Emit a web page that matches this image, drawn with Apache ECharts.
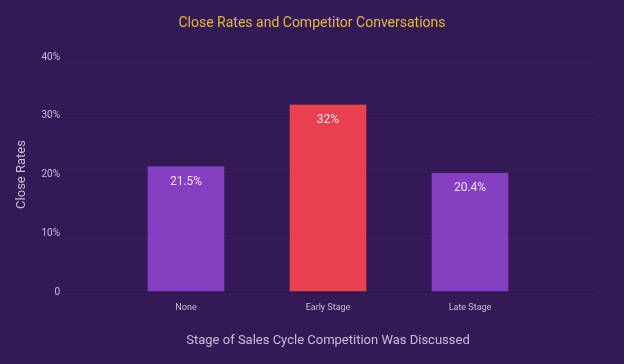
<!DOCTYPE html>
<html><head><meta charset="utf-8">
<script src="https://cdn.jsdelivr.net/npm/echarts@6/dist/echarts.min.js"></script>
<style>html,body{margin:0;padding:0;background:#331a57;}#c{width:624px;height:364px;}</style>
</head><body><div id="c"></div>
<script>
const categories = ['None', 'Early Stage', 'Late Stage'];
const closeRates = [21.5, 32, 20.4];
const barColors = ['#8540c2', '#e8404f', '#8540c2'];
const yTicks = [0, 10, 20, 30, 40];

const chart = echarts.init(document.getElementById('c'));
const fontFam = 'Roboto, sans-serif';
chart.setOption({
  backgroundColor: '#331a57',
  animation: false,
  title: {
    text: 'Close Rates and Competitor Conversations',
    left: 'center', top: 11,
    textStyle: { color: '#e6b93a', fontSize: 14, fontWeight: 'normal', fontFamily: fontFam }
  },
  grid: [
    { left: 62, right: 27, top: 57, bottom: 72 },
    { left: 115, right: 83, top: 57, bottom: 72 }
  ],
  xAxis: [
    { type: 'category', gridIndex: 0, data: categories, show: false },
    {
      type: 'category', gridIndex: 1, data: categories,
      axisLine: { show: false }, axisTick: { show: false },
      axisLabel: { color: '#c9bcd9', fontSize: 9, margin: 11, fontFamily: fontFam },
      name: 'Stage of Sales Cycle Competition Was Discussed',
      nameLocation: 'middle', nameGap: 42,
      nameTextStyle: { color: '#c9bcd9', fontSize: 13, fontFamily: fontFam }
    }
  ],
  yAxis: [
    {
      type: 'value', gridIndex: 0, min: 0, max: 40, interval: 10,
      axisLine: { show: false }, axisTick: { show: false },
      splitLine: { lineStyle: { color: '#29134a', width: 1 } },
      axisLabel: {
        color: '#c9bcd9', fontSize: 10, margin: 2, fontFamily: fontFam,
        formatter: v => yTicks.includes(v) ? (v === 0 ? '0' : v + '%') : ''
      },
      name: 'Close Rates', nameLocation: 'middle', nameGap: 34,
      nameTextStyle: { color: '#c9bcd9', fontSize: 13, fontFamily: fontFam }
    },
    { type: 'value', gridIndex: 1, min: 0, max: 40, interval: 10, show: false }
  ],
  series: [{
    type: 'bar', xAxisIndex: 1, yAxisIndex: 1,
    barWidth: 78,
    data: closeRates.map((v, i) => ({ value: v, itemStyle: { color: barColors[i], borderColor: 'rgba(60,20,90,0.35)', borderWidth: 1 } })),
    label: {
      show: true, position: 'insideTop', distance: 10,
      color: '#eedcec', fontSize: 12, fontFamily: fontFam,
      formatter: p => p.value + '%'
    }
  }]
});
</script></body></html>
